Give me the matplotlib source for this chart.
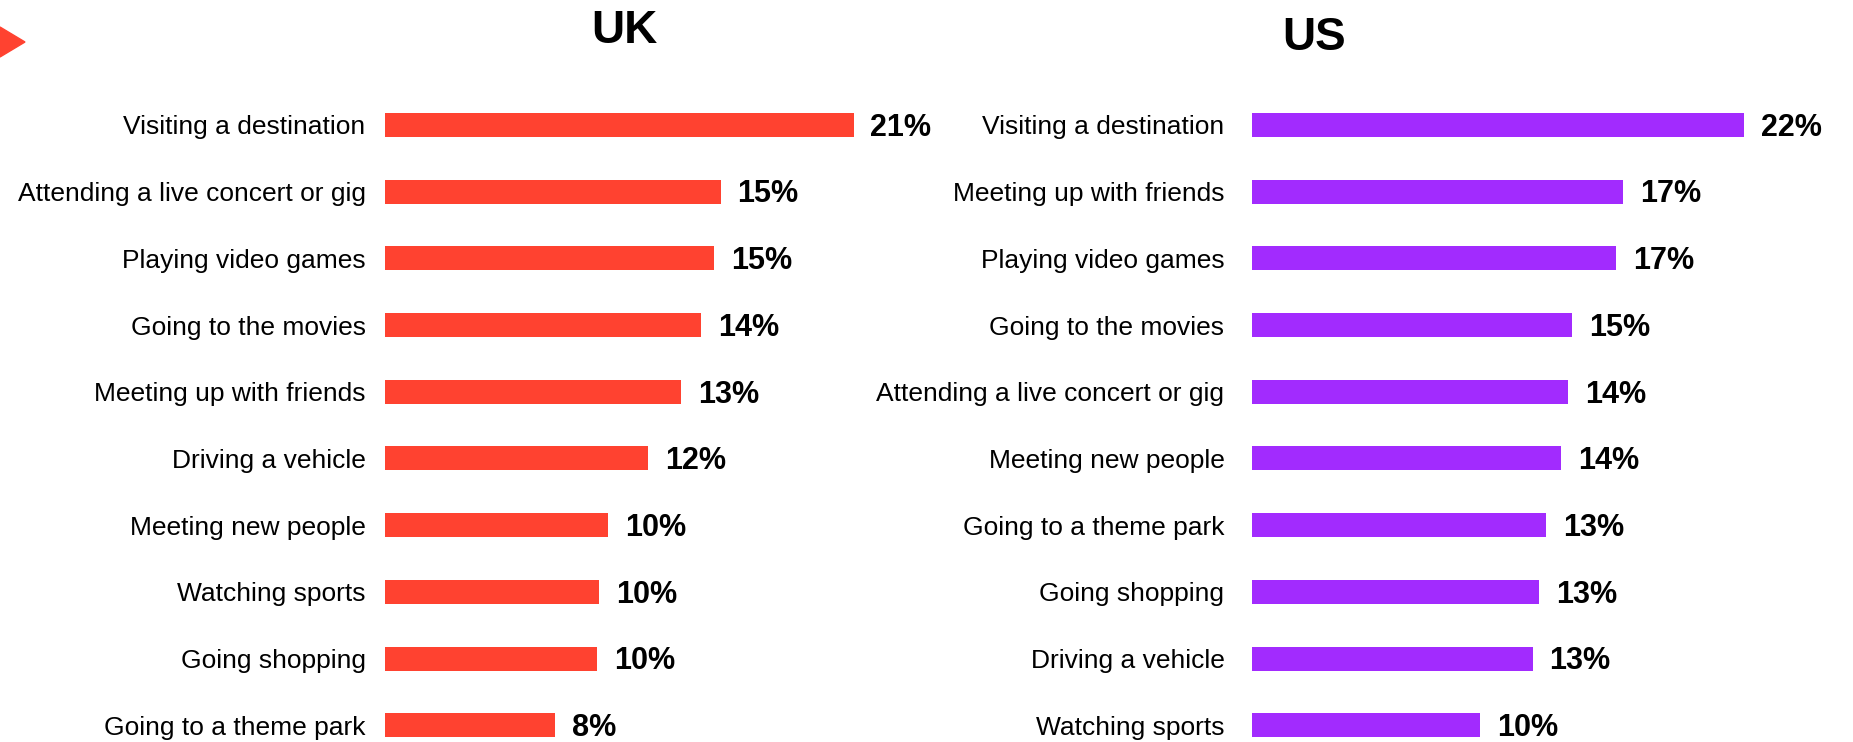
import matplotlib
matplotlib.use("Agg")
import matplotlib.pyplot as plt
from matplotlib.patches import Polygon

# Data (share of respondents, %)
uk_labels = ["Visiting a destination", "Attending a live concert or gig", "Playing video games",
             "Going to the movies", "Meeting up with friends", "Driving a vehicle",
             "Meeting new people", "Watching sports", "Going shopping", "Going to a theme park"]
uk_values = [21.2, 15.2, 14.9, 14.3, 13.4, 11.9, 10.1, 9.7, 9.6, 7.7]

us_labels = ["Visiting a destination", "Meeting up with friends", "Playing video games",
             "Going to the movies", "Attending a live concert or gig", "Meeting new people",
             "Going to a theme park", "Going shopping", "Driving a vehicle", "Watching sports"]
us_values = [22.4, 16.9, 16.6, 14.6, 14.4, 14.1, 13.4, 13.1, 12.8, 10.4]

UK_COLOR = "#FF4230"
US_COLOR = "#A22BFE"

plt.rcParams['font.family'] = ['Liberation Sans', 'DejaVu Sans']

W, H = 1853, 742
fig = plt.figure(figsize=(W / 100, H / 100), dpi=100)

XMAX = 25
ax_top = 1 - 91.6 / H


def draw_panel(left_px, px_per_unit, labels, values, color, label_pad):
    ax = fig.add_axes([left_px / W, 0, XMAX * px_per_unit / W, ax_top])
    pos = range(len(labels))
    ax.barh(pos, values, height=0.36, color=color)
    ax.set_xlim(0, XMAX)
    ax.set_ylim(9.25, -0.5)
    ax.set_yticks(list(pos))
    ax.set_yticklabels(labels, fontsize=19)
    ax.tick_params(axis="y", length=0, pad=label_pad)
    ax.set_xticks([])
    for s in ax.spines.values():
        s.set_visible(False)
    for i, v in enumerate(values):
        ax.annotate(f"{v:.0f}%", (v, i), xytext=(12, -2), textcoords="offset points",
                    va="center", ha="left", fontsize=22, fontweight="bold",
                    annotation_clip=False)
    return ax


draw_panel(385, 22.1, uk_labels, uk_values, UK_COLOR, 14)
draw_panel(1251.5, 21.98, us_labels, us_values, US_COLOR, 19.5)

fig.text(624 / W, 1 - 31 / H, "UK", ha="center", va="center", fontsize=33, fontweight="bold")
fig.text(1314 / W, 1 - 38 / H, "US", ha="center", va="center", fontsize=33, fontweight="bold")

# small arrow marker at the top left corner
tri = Polygon([(0, 1 - 27 / H), (25 / W, 1 - 42 / H), (0, 1 - 57 / H)],
              closed=True, color=UK_COLOR, transform=fig.transFigure)
fig.add_artist(tri)

fig.savefig("out.png", dpi=100)
